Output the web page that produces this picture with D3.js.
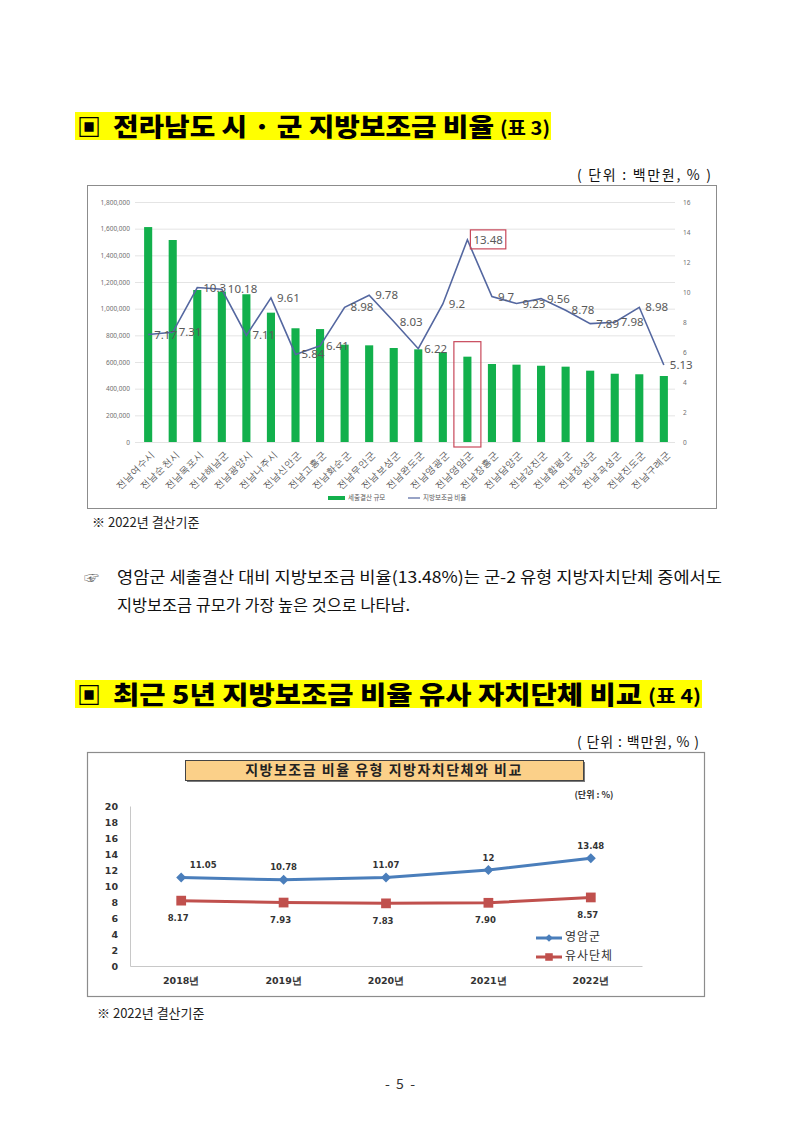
<!DOCTYPE html>
<html>
<head>
<meta charset="utf-8">
<script src="https://cdn.jsdelivr.net/npm/d3@7"></script>
<style>
  body { margin: 0; background: #fff; }
  svg { display: block; font-family: "Noto Sans CJK KR", "Noto Sans", sans-serif; }
</style>
</head>
<body>
<svg id="page" width="800" height="1131"></svg>
<script>
// --- table 3 data (2022 settlement)
const cities = ['전남여수시', '전남순천시', '전남목포시', '전남해남군', '전남광양시', '전남나주시',
  '전남신안군', '전남고흥군', '전남화순군', '전남무안군', '전남보성군', '전남완도군', '전남영광군',
  '전남영암군', '전남장흥군', '전남담양군', '전남강진군', '전남함평군', '전남장성군', '전남곡성군',
  '전남진도군', '전남구례군'];
const budget = [1612000, 1515000, 1140000, 1128000, 1108000, 970000, 853000, 847000, 730000, 725000,
  705000, 695000, 673000, 640000, 585000, 580000, 572000, 565000, 535000, 512000, 508000, 495000];
const ratio = [7.17, 7.31, 10.3, 10.18, 7.11, 9.61, 5.84, 6.41, 8.98, 9.78, 8.03, 6.22, 9.2, 13.48,
  9.7, 9.23, 9.56, 8.78, 7.89, 7.98, 8.98, 5.13];
const budgetTicks = [0, 200000, 400000, 600000, 800000, 1000000, 1200000, 1400000, 1600000, 1800000];
const ratioTicks = [0, 2, 4, 6, 8, 10, 12, 14, 16];
const highlightCity = '전남영암군';

// --- table 4 data (last 5 years)
const years = ['2018년', '2019년', '2020년', '2021년', '2022년'];
const yeongam = [11.05, 10.78, 11.07, 12, 13.48];
const similar = [8.17, 7.93, 7.83, 7.90, 8.57];
const yeongamLabels = ['11.05', '10.78', '11.07', '12', '13.48'];
const similarLabels = ['8.17', '7.93', '7.83', '7.90', '8.57'];
const pctTicks = [0, 2, 4, 6, 8, 10, 12, 14, 16, 18, 20];

const svg = d3.select('#page');
const heavy = '"Noto Sans CJK KR", sans-serif';
const num = '"DejaVu Sans", Verdana, sans-serif';

// section title with yellow highlight
function title(y, main, mainEnd, tag, tagEnd, hlEnd) {
  svg.append('rect')
    .attr('x', 75).attr('y', y - 24).attr('width', hlEnd - 75).attr('height', 28)
    .attr('fill', '#ffff00');
  svg.append('text')
    .attr('x', 77).attr('y', y)
    .attr('font-size', 24).attr('font-weight', 900).attr('font-family', heavy)
    .text('▣');
  svg.append('text')
    .attr('x', 113).attr('y', y)
    .attr('font-size', 25).attr('font-weight', 900).attr('font-family', heavy)
    .attr('textLength', mainEnd - 113).attr('lengthAdjust', 'spacingAndGlyphs')
    .text(main);
  svg.append('text')
    .attr('x', mainEnd + 6).attr('y', y - 1)
    .attr('font-size', 19).attr('font-weight', 700).attr('font-family', heavy)
    .attr('textLength', tagEnd - mainEnd - 6).attr('lengthAdjust', 'spacingAndGlyphs')
    .text(tag);
}

function unit(x, y, w) {
  svg.append('text')
    .attr('x', x - w).attr('y', y)
    .attr('font-size', 14).attr('fill', '#111')
    .attr('textLength', w).attr('lengthAdjust', 'spacing')
    .text('( 단위 : 백만원, % )');
}

function note(x, y) {
  svg.append('text')
    .attr('x', x).attr('y', y)
    .attr('font-size', 13).attr('fill', '#222')
    .text('※ 2022년 결산기준');
}

// ================= table 3 =================
title(136, '전라남도 시 · 군 지방보조금 비율', 494, '(표 3)', 550, 551);
unit(711, 180, 134);

svg.append('rect')
  .attr('x', 87.5).attr('y', 185.5).attr('width', 629).attr('height', 323)
  .attr('fill', '#fff').attr('stroke', '#8c8c8c');

const x1 = d3.scaleBand().domain(cities).range([136, 676])
  .paddingInner(0.67).paddingOuter(0.33);
const yL = d3.scaleLinear().domain([0, 1800000]).range([442, 202]);
const yR = d3.scaleLinear().domain([0, 16]).range([442, 202]);
const c1 = d => x1(d) + x1.bandwidth() / 2;

const g1 = svg.append('g');

g1.append('g')
  .attr('transform', 'translate(135,0)')
  .call(d3.axisLeft(yL).tickValues(budgetTicks).tickSizeInner(-540).tickSizeOuter(0)
    .tickPadding(5).tickFormat(d3.format(',')))
  .call(g => g.select('.domain').remove())
  .call(g => g.selectAll('line').attr('stroke', '#e4e4e4'))
  .call(g => g.selectAll('text').attr('font-size', 6.5).attr('fill', '#6f6f6f')
    .attr('font-family', '"Noto Sans", sans-serif'));

g1.append('g')
  .attr('transform', 'translate(675,0)')
  .call(d3.axisRight(yR).tickValues(ratioTicks).tickSize(0).tickPadding(8))
  .call(g => g.select('.domain').remove())
  .call(g => g.selectAll('text').attr('font-size', 6.5).attr('fill', '#6f6f6f')
    .attr('font-family', '"Noto Sans", sans-serif'));

g1.append('g')
  .attr('transform', 'translate(0,442)')
  .call(d3.axisBottom(x1).tickSize(0).tickPadding(0))
  .call(g => g.select('.domain').remove())
  .call(g => g.selectAll('text')
    .attr('y', 0).attr('dy', 0)
    .attr('font-size', 9.5).attr('fill', '#595959')
    .attr('text-anchor', 'end')
    .attr('transform', 'translate(7,13) rotate(-45)'));

g1.selectAll('rect.bar')
  .data(cities)
  .join('rect')
    .attr('class', 'bar')
    .attr('x', d => x1(d))
    .attr('width', x1.bandwidth())
    .attr('y', (d, i) => yL(budget[i]))
    .attr('height', (d, i) => yL(0) - yL(budget[i]))
    .attr('fill', '#12b04c');

const line1 = d3.line().x((d, i) => c1(cities[i])).y(d => yR(d));
g1.append('path')
  .datum(ratio)
  .attr('d', line1)
  .attr('fill', 'none')
  .attr('stroke', '#5467a0')
  .attr('stroke-width', 1.6);

const lab1 = g1.selectAll('text.lab')
  .data(ratio)
  .join('text')
    .attr('class', 'lab')
    .attr('x', (d, i) => c1(cities[i]) + 6)
    .attr('y', d => yR(d) + 1)
    .attr('dominant-baseline', 'middle')
    .attr('font-size', 11.5)
    .attr('fill', '#595959')
    .attr('font-family', '"Noto Sans", sans-serif')
    .text(d => d);

// highlight for Yeongam
const hi = cities.indexOf(highlightCity);
const hb = lab1.filter((d, i) => i === hi).node().getBBox();
g1.append('rect')
  .attr('x', hb.x - 3).attr('y', hb.y - 2)
  .attr('width', hb.width + 6).attr('height', hb.height + 4)
  .attr('fill', 'none').attr('stroke', '#c8485a').attr('stroke-width', 1.2);
g1.append('rect')
  .attr('x', c1(highlightCity) - 13.5).attr('y', yL(budget[hi]) - 15)
  .attr('width', 27).attr('height', yL(0) - yL(budget[hi]) + 20)
  .attr('fill', 'none').attr('stroke', '#c8485a').attr('stroke-width', 1.2);

// legend
const lg1 = g1.append('g').attr('font-size', 6.5).attr('fill', '#595959');
lg1.append('rect').attr('x', 328).attr('y', 496).attr('width', 17).attr('height', 4).attr('fill', '#12b04c');
lg1.append('text').attr('x', 348).attr('y', 498).attr('dominant-baseline', 'middle').text('세출결산 규모');
lg1.append('line').attr('x1', 408).attr('x2', 420).attr('y1', 498).attr('y2', 498)
  .attr('stroke', '#5467a0').attr('stroke-width', 1.2);
lg1.append('text').attr('x', 423).attr('y', 498).attr('dominant-baseline', 'middle').text('지방보조금 비율');

note(92, 527);

// paragraph
svg.append('text')
  .attr('x', 84).attr('y', 583).attr('font-size', 15).attr('fill', '#666')
  .text('☞');
svg.append('text')
  .attr('x', 117).attr('y', 583).attr('font-size', 16).attr('fill', '#111')
  .attr('textLength', 605).attr('lengthAdjust', 'spacingAndGlyphs')
  .text('영암군 세출결산 대비 지방보조금 비율(13.48%)는 군-2 유형 지방자치단체 중에서도');
svg.append('text')
  .attr('x', 117).attr('y', 611).attr('font-size', 16).attr('fill', '#111')
  .attr('textLength', 293).attr('lengthAdjust', 'spacingAndGlyphs')
  .text('지방보조금 규모가 가장 높은 것으로 나타남.');

// ================= table 4 =================
title(704, '최근 5년 지방보조금 비율 유사 자치단체 비교', 642, '(표 4)', 701, 702);
unit(699, 747, 122);

svg.append('rect')
  .attr('x', 87.5).attr('y', 752.5).attr('width', 617).attr('height', 244)
  .attr('fill', '#fff').attr('stroke', '#8c8c8c').attr('stroke-width', 1.2);

// inner title box
svg.append('rect')
  .attr('x', 187).attr('y', 762).attr('width', 398).attr('height', 20)
  .attr('fill', '#7a7a7a');
svg.append('rect')
  .attr('x', 185.5).attr('y', 760.5).attr('width', 398).attr('height', 20)
  .attr('fill', '#fbd089').attr('stroke', '#444');
svg.append('text')
  .attr('x', 384).attr('y', 771).attr('text-anchor', 'middle').attr('dominant-baseline', 'middle')
  .attr('font-size', 14).attr('font-weight', 700).attr('fill', '#222').attr('letter-spacing', 1.5)
  .text('지방보조금 비율 유형 지방자치단체와 비교');

svg.append('text')
  .attr('x', 594).attr('y', 798).attr('text-anchor', 'middle')
  .attr('font-size', 9).attr('font-weight', 700).attr('fill', '#333')
  .text('(단위 : %)');

const x2 = d3.scaleBand().domain(years).range([130, 642]);
const y2 = d3.scaleLinear().domain([0, 20]).range([966, 806]);
const c2 = d => x2(d) + x2.bandwidth() / 2;
const g2 = svg.append('g');

g2.append('g')
  .attr('transform', 'translate(130,0)')
  .call(d3.axisLeft(y2).tickValues(pctTicks).tickSizeInner(0).tickSizeOuter(0).tickPadding(12))
  .call(g => g.select('.domain').attr('stroke', '#c8c8c8'))
  .call(g => g.selectAll('text').attr('font-size', 9.5).attr('font-weight', 700)
    .attr('fill', '#333').attr('font-family', num));

g2.append('g')
  .attr('transform', 'translate(0,966)')
  .call(d3.axisBottom(x2).tickSizeInner(0).tickSizeOuter(0).tickPadding(11))
  .call(g => g.select('.domain').attr('stroke', '#c8c8c8'))
  .call(g => g.selectAll('text').attr('font-size', 9.5).attr('font-weight', 700)
    .attr('fill', '#333').attr('font-family', num));

const line2 = d3.line().x((d, i) => c2(years[i])).y(d => y2(d));
const series = [
  {name: '영암군', values: yeongam, labels: yeongamLabels, color: '#4a7ebb', symbol: d3.symbolSquare, rot: 45, size: 50, dy: -12},
  {name: '유사단체', values: similar, labels: similarLabels, color: '#c0504d', symbol: d3.symbolSquare, rot: 0, size: 95, dy: 18},
];

series.forEach((s, k) => {
  g2.append('path')
    .datum(s.values)
    .attr('d', line2)
    .attr('fill', 'none')
    .attr('stroke', s.color)
    .attr('stroke-width', 3);
  g2.selectAll(null)
    .data(s.values)
    .join('path')
      .attr('transform', (d, i) => `translate(${c2(years[i])},${y2(d)}) rotate(${s.rot})`)
      .attr('d', d3.symbol(s.symbol, s.size))
      .attr('fill', s.color);
  g2.selectAll(null)
    .data(s.values)
    .join('text')
      .attr('x', (d, i) => c2(years[i]) + (k === 0 && i === 0 ? 22 : 0) - (k === 1 ? 3 : 0))
      .attr('y', d => y2(d) + s.dy)
      .attr('text-anchor', 'middle')
      .attr('dominant-baseline', 'middle')
      .attr('font-size', 8.5).attr('font-weight', 700).attr('fill', '#333')
      .attr('font-family', num)
      .text((d, i) => s.labels[i]);

  // legend
  const ly = 938 + k * 19;
  g2.append('line')
    .attr('x1', 536).attr('x2', 562).attr('y1', ly).attr('y2', ly)
    .attr('stroke', s.color).attr('stroke-width', 3);
  g2.append('path')
    .attr('transform', `translate(549,${ly}) rotate(${s.rot})`)
    .attr('d', d3.symbol(s.symbol, s.size * 0.6))
    .attr('fill', s.color);
  g2.append('text')
    .attr('x', 565).attr('y', ly).attr('dominant-baseline', 'middle')
    .attr('font-size', 12).attr('fill', '#333')
    .attr('letter-spacing', 1)
    .text(s.name);
});

note(97, 1018);

svg.append('text')
  .attr('x', 400).attr('y', 1089).attr('text-anchor', 'middle')
  .attr('font-size', 14).attr('fill', '#333').attr('xml:space', 'preserve')
  .text('-  5  -');
</script>
</body>
</html>
